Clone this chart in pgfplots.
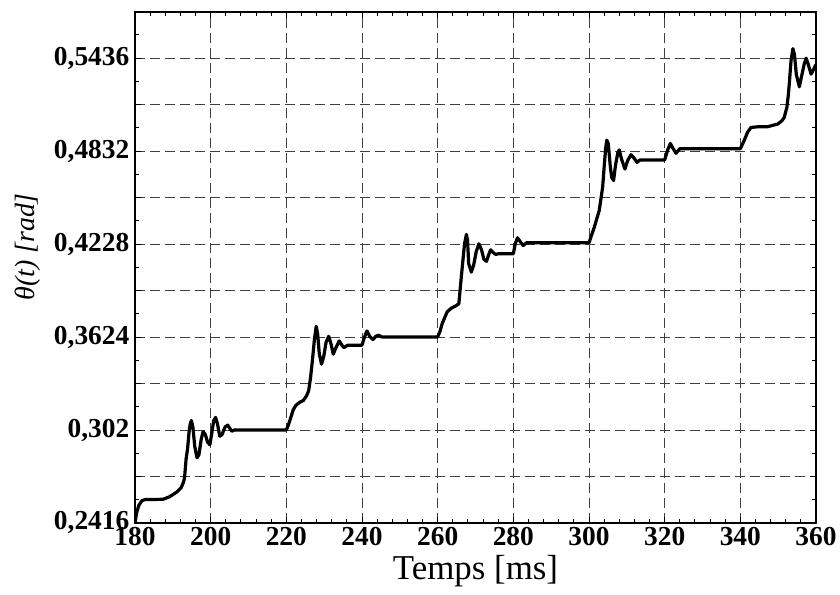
\documentclass[border=0pt]{standalone}
\usepackage{fontspec}
\setmainfont{Liberation Serif}
\usepackage{pgfplots}
\pgfplotsset{compat=1.18}
\begin{document}
\begin{tikzpicture}
\useasboundingbox (-135bp,-72bp) rectangle (705bp,523bp);
\begin{axis}[
 at={(0,0)}, anchor=south west,
 scale only axis, width=681bp, height=511.3bp,
 xmin=180, xmax=360, ymin=0.2416, ymax=0.5738,
 xtick={180,200,...,360},
 xticklabels={180,200,220,240,260,280,300,320,340,360},
 minor x tick num=4,
 ytick={0.2416,0.2718,0.302,0.3322,0.3624,0.3926,0.4228,0.453,0.4832,0.5134,0.5436,0.5738},
 yticklabels={{0,2416},{},{0,302},{},{0,3624},{},{0,4228},{},{0,4832},{},{0,5436},{}},
 minor y tick num=1,
 tick align=inside,
 major tick length=6bp, minor tick length=4bp,
 tick style={black, line width=1bp},
 grid=major,
 major grid style={dash pattern=on 10bp off 5bp, black!75, line width=0.9bp},
 axis line style={line width=1.8bp},
 ticklabel style={font=\fontsize{27.5}{30}\selectfont\bfseries},
 yticklabel style={inner sep=2.5bp, xshift=-3bp},
 xticklabel style={inner sep=2bp, yshift=-2bp},
 xlabel={Temps [ms]},
 ylabel={\itshape θ(t) [rad]},
 xlabel style={at={(axis description cs:0.5,-0.11)}, anchor=base, font=\fontsize{35}{40}\selectfont},
 ylabel style={at={(axis description cs:-0.158,0.54)}, anchor=center, font=\fontsize{28}{32}\selectfont},
]
\addplot[black, line width=3.2bp, line join=round] coordinates {
(180.0,0.2416) (180.4,0.2480) (181.0,0.2530) (181.8,0.2560) (182.6,0.2568) (187.4,0.2570)
(189.0,0.2585) (190.0,0.2600) (191.2,0.2620) (192.2,0.2645) (192.8,0.2680) (193.1,0.2710)
(193.5,0.2830) (193.9,0.2900) (194.3,0.3010) (194.6,0.3060) (194.9,0.3082) (195.3,0.3040)
(195.8,0.2912) (196.4,0.2840) (196.9,0.2860) (197.5,0.2960) (198.0,0.3010) (198.6,0.2990)
(199.2,0.2940) (199.8,0.2925) (200.3,0.3000) (200.8,0.3080) (201.3,0.3102) (201.8,0.3060)
(202.4,0.2980) (203.0,0.2990) (203.8,0.3040) (204.5,0.3052) (205.2,0.3025) (205.6,0.3012)
(206.2,0.3020) (220.0,0.3020)
(220.5,0.3050) (221.0,0.3087) (221.8,0.3150) (222.5,0.3180) (223.5,0.3200) (224.5,0.3212)
(225.3,0.3240) (225.9,0.3275) (226.4,0.3360) (226.9,0.3474) (227.4,0.3603) (227.9,0.3694)
(228.3,0.3640) (228.7,0.3517) (229.3,0.3448) (229.9,0.3500) (230.5,0.3590) (231.2,0.3629)
(231.8,0.3580) (232.4,0.3513) (233.2,0.3560) (234.0,0.3599) (234.6,0.3575) (235.2,0.3555)
(236.2,0.3571) (240.0,0.3571) (240.6,0.3620) (241.3,0.3664) (242.0,0.3630) (242.9,0.3608)
(243.7,0.3630) (244.4,0.3636) (245.2,0.3625) (260.0,0.3625)
(260.6,0.3660) (261.2,0.3712) (262.5,0.3787) (263.5,0.3810) (265.0,0.3830) (265.6,0.3841)
(266.0,0.3949) (266.5,0.4079) (267.1,0.4230) (267.6,0.4291) (267.9,0.4250) (268.2,0.4101)
(268.9,0.4046) (269.5,0.4090) (270.2,0.4180) (270.9,0.4230) (271.6,0.4190) (272.2,0.4130)
(272.9,0.4116) (273.5,0.4160) (274.0,0.4191) (274.6,0.4175) (275.3,0.4161) (276.0,0.4165)
(280.0,0.4165) (280.5,0.4230) (281.1,0.4269) (281.8,0.4245) (282.6,0.4219) (283.5,0.4237)
(300.0,0.4237)
(300.6,0.4280) (301.4,0.4338) (302.7,0.4446) (303.6,0.4597) (304.0,0.4727) (304.4,0.4850)
(304.7,0.4904) (305.1,0.4880) (305.6,0.4740) (306.0,0.4660) (306.5,0.4641) (307.0,0.4740)
(307.6,0.4820) (308.0,0.4840) (308.6,0.4780) (309.5,0.4716) (310.2,0.4770) (311.1,0.4809)
(311.8,0.4790) (312.7,0.4759) (313.5,0.4775) (320.0,0.4775) (320.8,0.4840) (321.5,0.4882)
(322.2,0.4850) (323.0,0.4818) (324.0,0.4848) (340.0,0.4848)
(341.0,0.4900) (341.9,0.4954) (342.8,0.4986) (344.5,0.4990) (347.2,0.4991) (349.9,0.5008)
(351.0,0.5030) (351.6,0.5051) (352.3,0.5116) (352.7,0.5200) (353.0,0.5289) (353.4,0.5420)
(353.9,0.5498) (354.3,0.5460) (354.8,0.5330) (355.6,0.5250) (356.2,0.5320) (356.9,0.5400)
(357.4,0.5436) (357.9,0.5400) (358.7,0.5332) (359.3,0.5360) (360.0,0.5395)
};
\end{axis}
\end{tikzpicture}
\end{document}
